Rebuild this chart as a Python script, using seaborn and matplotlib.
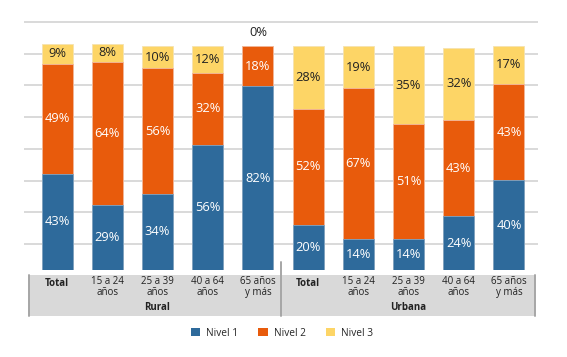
import numpy as np
import pandas as pd
import matplotlib
matplotlib.use("Agg")
import matplotlib.pyplot as plt
from matplotlib.patches import Rectangle, Patch
from matplotlib.lines import Line2D
import seaborn as sns

# 데이터
zonas = ["Rural"] * 5 + ["Urbana"] * 5
grupos = ["Total", "15 a 24\naños", "25 a 39\naños", "40 a 64\naños", "65 años\ny más"] * 2
nivel1 = [43, 29, 34, 56, 82, 20, 14, 14, 24, 40]
nivel2 = [49, 64, 56, 32, 18, 52, 67, 51, 43, 43]
nivel3 = [9, 8, 10, 12, 0, 28, 19, 35, 32, 17]
niveles = ["Nivel 1", "Nivel 2", "Nivel 3"]
colores = ["#2E6A9B", "#E85B0C", "#FDD566"]

sns.set_theme(style="white")
plt.rcParams["font.family"] = ["Open Sans", "DejaVu Sans"]

df = pd.DataFrame({"key": [f"{z}-{g}" for z, g in zip(zonas, grupos)],
                   "n1": np.array(nivel1) / 100,
                   "n2": np.array(nivel2) / 100,
                   "n3": np.array(nivel3) / 100})
df["c12"] = df["n1"] + df["n2"]
df["c123"] = df["c12"] + df["n3"]

W, H = 567, 357
fig = plt.figure(figsize=(W / 100, H / 100), dpi=100)
ax = fig.add_axes([24 / W, (H - 270) / H, (538 - 24) / W, (270 - 19) / H])

# 격자선
for g in np.arange(0.116, 1.12, 0.1415):
    ax.axhline(g, color="#D9D9D9", lw=1.4, zorder=0)

# 누적 막대 (위에서부터 덮어 그리기)
bordes = ["#F5E3B0", "#F2B9A0", "#7FA6C6"]
for col, c, e in zip(["c123", "c12", "n1"], colores[::-1], bordes):
    sns.barplot(data=df, x="key", y=col, color=c, width=0.62, ax=ax,
                edgecolor=e, linewidth=0.6, zorder=2, saturation=1)

ax.set_xlim(-0.66, 9.58)
ax.set_ylim(0, 1.12)
ax.set_xlabel("")
ax.set_ylabel("")
ax.set_xticks([])
ax.set_yticks([])
for s in ax.spines.values():
    s.set_visible(False)

# 수치 라벨
fs = 9.3
for i in range(len(df)):
    a, b, c = df["n1"][i], df["n2"][i], df["n3"][i]
    ax.text(i, a / 2, f"{nivel1[i]}%", color="white", ha="center", va="center", fontsize=fs, zorder=5)
    ax.text(i, a + b / 2, f"{nivel2[i]}%", color="white", ha="center", va="center", fontsize=fs, zorder=5)
    if nivel3[i] > 0:
        ax.text(i, a + b + c / 2, f"{nivel3[i]}%", color="#222222", ha="center", va="center", fontsize=fs, zorder=5)
    else:
        ax.text(i, a + b + 0.06, f"{nivel3[i]}%", color="#222222", ha="center", va="center", fontsize=fs, zorder=5)

# 카테고리 밴드
def fx(px):
    return px / W

def fy(py):
    return 1 - py / H

fig.patches.append(Rectangle((fx(29), fy(316)), fx(535) - fx(29), fy(275) - fy(316),
                             transform=fig.transFigure, facecolor="#D9D9D9", edgecolor="none", zorder=0))
for x0, ytop in [(29, 275), (281, 262), (535, 275)]:
    fig.lines.append(Line2D([fx(x0), fx(x0)], [fy(ytop), fy(316)], transform=fig.transFigure,
                            color="#A6A6A6", lw=1.4))

for i, g in enumerate(grupos):
    xf = ax.transData.transform((i, 0))[0] / W
    if g == "Total":
        fig.text(xf, fy(283), g, ha="center", va="center", fontsize=7, fontweight="bold", color="#222222")
    else:
        fig.text(xf, fy(287), g, ha="center", va="center", fontsize=7, color="#222222", linespacing=0.9)

for z, i0 in [("Rural", 2), ("Urbana", 7)]:
    xf = ax.transData.transform((i0, 0))[0] / W
    fig.text(xf, fy(307), z, ha="center", va="center", fontsize=7, fontweight="bold", color="#222222")

handles = [Patch(facecolor=c, edgecolor="none") for c in colores]
fig.legend(handles, niveles, loc="center", bbox_to_anchor=(fx(282), fy(333)), ncol=3, frameon=False,
           fontsize=7.3, handlelength=0.9, handleheight=0.9, handletextpad=0.6, columnspacing=2.0)

fig.savefig("out.png", dpi=100)
